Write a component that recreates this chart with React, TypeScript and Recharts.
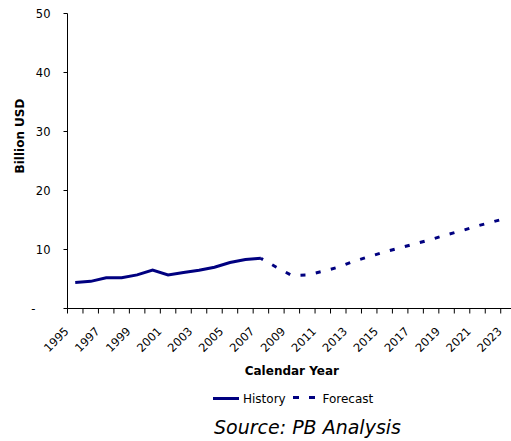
import React from 'react';
import { LineChart, Line, XAxis, YAxis, Legend } from 'recharts';

const years = [
  1995, 1996, 1997, 1998, 1999, 2000, 2001, 2002, 2003, 2004, 2005, 2006, 2007, 2008, 2009,
  2010, 2011, 2012, 2013, 2014, 2015, 2016, 2017, 2018, 2019, 2020, 2021, 2022, 2023,
];
// History 1995-2007
const historyValues = [4.4, 4.6, 5.2, 5.2, 5.7, 6.5, 5.7, 6.1, 6.5, 7.0, 7.8, 8.3, 8.5];
// Forecast 2007-2023
const forecastStartYear = 2007;
const forecastValues = [8.5, 7.0, 5.6, 5.7, 6.3, 7.0, 8.0, 8.8, 9.6, 10.3, 11.0, 11.7, 12.5, 13.2, 14.0, 14.7, 15.4];
const yTicks = [0, 10, 20, 30, 40, 50];
const xTicks = years;

// annual values plotted at mid-year on a year axis
const data = years.map((year, i) => ({
  year,
  x: year + 0.5,
  history: i < historyValues.length ? historyValues[i] : null,
  forecast: year >= forecastStartYear ? forecastValues[year - forecastStartYear] : null,
}));

const FONT = '"DejaVu Sans", Verdana, Tahoma, sans-serif';
const NAVY = '#000080';

const XTick = (props: any) => {
  const { x, y, payload } = props;
  const v = payload.value;
  if ((v - 1995) % 2 !== 0) return <g />;
  const ax = x + 2;
  const ay = y + 18.5;
  return (
    <text x={ax} y={ay} transform={`rotate(-45 ${ax} ${ay})`} textAnchor="end" fontFamily={FONT} fontSize={11.5} fill="#000">
      {v}
    </text>
  );
};

const YTick = (props: any) => {
  const { x, y, payload } = props;
  const v = payload.value;
  return (
    <text x={v === 0 ? x - 15 : x} y={y} dy="0.355em" textAnchor="end" fontFamily={FONT} fontSize={11.5} fill="#000">
      {v === 0 ? '-' : v}
    </text>
  );
};

const renderLegend = () => (
  <svg width={511} height={56} style={{ display: 'block' }}>
    <line x1={213} x2={239} y1={13.5} y2={13.5} stroke={NAVY} strokeWidth={3} />
    <text x={243} y={18.3} fontFamily={FONT} fontSize={12} fill="#000">History</text>
    <line x1={293} x2={319} y1={12.5} y2={12.5} stroke={NAVY} strokeWidth={3} strokeDasharray="6 10" />
    <text x={322.5} y={18.3} fontFamily={FONT} fontSize={12} fill="#000">Forecast</text>
    <text x={307.5} y={49} textAnchor="middle" fontFamily={FONT} fontStyle="italic" fontSize={19} fill="#000">
      Source: PB Analysis
    </text>
  </svg>
);

export default function App() {
  return (
    <div style={{ position: 'fixed', left: 0, top: 0, width: 511, height: 441, overflow: 'hidden', background: '#fff' }}>
      <LineChart width={530} height={441} data={data} margin={{ top: 13.5, right: 13.8, bottom: 72.5, left: 7.5 }}>
        <XAxis
          type="number"
          dataKey="x"
          domain={[1995, 2024]}
          ticks={xTicks}
          interval={0}
          height={60}
          tickSize={5}
          tickMargin={0}
          tick={<XTick />}
          axisLine={{ stroke: '#000', strokeWidth: 1 }}
          tickLine={{ stroke: '#000', strokeWidth: 1 }}
          label={{
            content: (p: any) => {
              const vb = p.viewBox || {};
              return (
                <text x={vb.x + vb.width / 2} y={375} textAnchor="middle" fontFamily={FONT} fontWeight="bold" fontSize={12} fill="#000">
                  Calendar Year
                </text>
              );
            },
          }}
        />
        <YAxis
          type="number"
          domain={[0, 50]}
          ticks={yTicks}
          interval={0}
          width={60}
          tickSize={4}
          tickMargin={13}
          tick={<YTick />}
          axisLine={{ stroke: '#000', strokeWidth: 1 }}
          tickLine={{ stroke: '#000', strokeWidth: 1 }}
          label={{
            content: () => (
              <text x={24} y={136} transform="rotate(-90 24 136)" textAnchor="middle" fontFamily={FONT} fontWeight="bold" fontSize={12} fill="#000">
                Billion USD
              </text>
            ),
          }}
        />
        <Line
          type="linear"
          dataKey="history"
          name="History"
          stroke={NAVY}
          strokeWidth={3}
          dot={false}
          activeDot={false}
          isAnimationActive={false}
        />
        <Line
          type="linear"
          dataKey="forecast"
          name="Forecast"
          stroke={NAVY}
          strokeWidth={3}
          strokeDasharray="5 10.5"
          strokeDashoffset={2.5}
          dot={false}
          activeDot={false}
          isAnimationActive={false}
        />
        <Legend
          layout="horizontal"
          verticalAlign="middle"
          align="center"
          content={renderLegend}
          wrapperStyle={{ left: 0, top: 385, width: 511, height: 56, margin: 0, padding: 0 }}
        />
      </LineChart>
    </div>
  );
}
